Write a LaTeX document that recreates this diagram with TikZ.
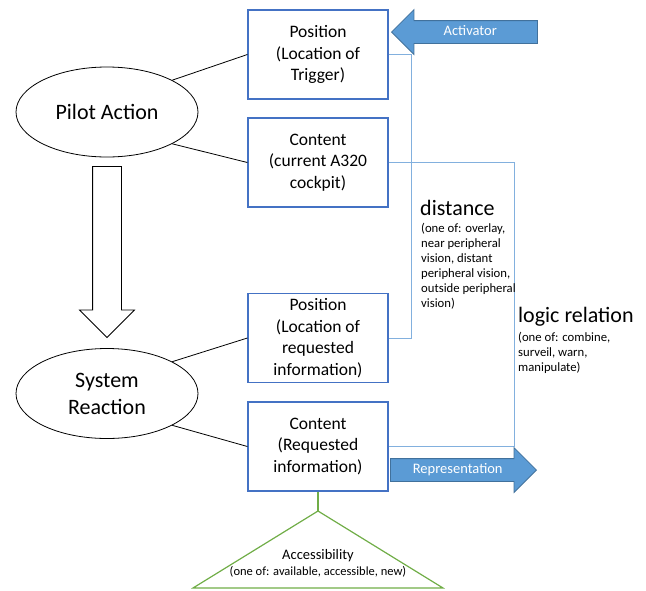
\documentclass[tikz,border=0pt]{standalone}
\usepackage{fontspec}
\setmainfont{Carlito}
\usetikzlibrary{shapes.geometric,shapes.arrows}
\definecolor{boxblue}{RGB}{68,114,196}
\definecolor{lineblue}{RGB}{130,176,222}
\definecolor{arrowblue}{RGB}{91,155,213}
\definecolor{arrowedge}{RGB}{65,113,156}
\definecolor{trigreen}{RGB}{112,173,71}
\tikzset{
  infobox/.style={draw=boxblue, line width=1.2pt, minimum width=140pt, minimum height=89pt,
    align=center, inner sep=2pt, font=\fontsize{17.5}{21.5}\selectfont},
  phase/.style={ellipse, draw, line width=0.8pt, minimum width=182pt, minimum height=90pt,
    align=center, font=\fontsize{22}{27}\selectfont},
  link/.style={line width=0.8pt},
  bracket/.style={draw=lineblue, line width=1pt},
  bluearrow/.style={single arrow, fill=arrowblue, draw=arrowedge, line width=0.8pt,
    minimum height=146pt, minimum width=44pt, single arrow head extend=11pt,
    text=white, font=\fontsize{14.5}{17}\selectfont, text height=10pt, text depth=3pt, inner ysep=4.5pt},
  hollowarrow/.style={single arrow, draw, fill=white, line width=0.8pt, shape border rotate=270,
    minimum height=171pt, minimum width=54pt, single arrow head extend=13pt, inner sep=14pt},
  title/.style={font=\fontsize{22}{25}\selectfont, inner sep=0pt},
  note/.style={font=\fontsize{12.7}{15}\selectfont, align=left, inner sep=0pt}
}
\begin{document}
\begin{tikzpicture}[x=1pt, y=-1pt]
\useasboundingbox (0,0) rectangle (646,590);

\node[phase] (pilot) at (107,112) {Pilot Action};
\node[phase] (system) at (107,393.5) {System\\Reaction};
\node[hollowarrow] (flow) at (107,338)[anchor=tip] {};

\node[infobox] (pos1) at (318,54.5) {Position\\(Location of\\Trigger)};
\node[infobox] (cont1) at (318,162.5) {Content\\(current A320\\cockpit)};
\node[infobox] (pos2) at (318,338) {Position\\(Location of\\requested\\information)};
\node[infobox] (cont2) at (318,446.5) {Content\\(Requested\\information)};

\draw[link] (pilot.26) -- (pos1.west);
\draw[link] (pilot.-26) -- (cont1.west);
\draw[link] (system.26) -- (pos2.west);
\draw[link] (system.-26) -- (cont2.west);

% distance / logic relation brackets
\draw[bracket] (pos1.east) -- ++(23,0) |- (pos2.east);
\draw[bracket] (cont1.east) -- ++(126,0) |- (cont2.east);

\node[title] (dist) at (420,215)[anchor=base west] {distance};
\node[note] (distnote) at (421,223)[anchor=north west]
  {(one of: overlay,\\near peripheral\\vision, distant\\peripheral vision,\\outside peripheral\\vision)};
\node[title] (logic) at (518,322)[anchor=base west] {logic relation};
\node[note] (logicnote) at (518,332)[anchor=north west]
  {(one of: combine,\\surveil, warn,\\manipulate)};

\node[bluearrow, shape border rotate=180] (activator) at (391,32)[anchor=tip] {Activator};
\node[bluearrow] (repr) at (537,470)[anchor=tip] {Representation};

% accessibility
\coordinate (apex) at (318,511);
\draw[trigreen, line width=1.2pt] (cont2.south) -- (apex);
\draw[trigreen, line width=1.2pt, line join=miter] (apex) -- (193,588) -- (443,588) -- cycle;
\node (access) at (318,559)[anchor=base, inner sep=0pt, font=\fontsize{14.5}{17}\selectfont] {Accessibility};
\node (accessnote) at (318,575)[anchor=base, inner sep=0pt, font=\fontsize{12.5}{15}\selectfont]
  {(one of: available, accessible, new)};

\end{tikzpicture}
\end{document}
